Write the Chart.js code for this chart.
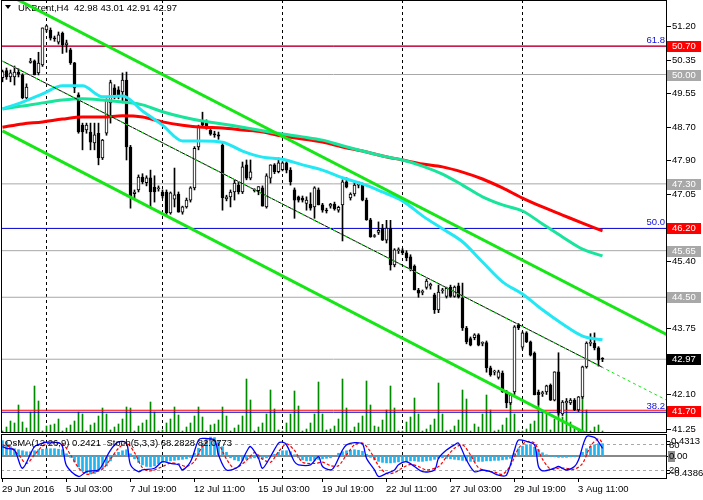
<!DOCTYPE html>
<html>
<head>
<meta charset="utf-8">
<script src="https://cdn.jsdelivr.net/npm/chart.js@4.4.1/dist/chart.umd.min.js"></script>
<style>
  html, body { margin: 0; padding: 0; background: #fff; }
  #wrap { position: relative; width: 703px; height: 500px; overflow: hidden; }
  canvas { position: absolute; left: 0; }
  #priceChart { top: 0; }
  #oscChart { top: 433px; }
</style>
</head>
<body>
<div id="wrap">
  <canvas id="priceChart" width="703" height="434"></canvas>
  <canvas id="oscChart" width="703" height="67"></canvas>
</div>
<script>
// UKBrent H4 candles, 29 Jun - 4 Aug 2016
const opens = [
  49.92,50.10,49.94,49.94,50.06,49.99,49.42,50.30,50.34,50.04,
  50.24,51.10,51.10,50.90,50.80,51.02,50.73,50.61,50.29,49.50,
  48.75,48.63,48.58,48.31,48.55,47.94,48.55,49.30,49.67,49.62,
  49.57,49.86,48.21,47.06,47.15,47.47,47.33,47.45,47.22,47.18,
  47.10,47.10,46.58,46.92,47.05,46.60,46.73,46.90,47.20,48.21,
  48.82,48.80,48.62,48.53,48.51,48.26,46.93,46.98,47.10,47.27,
  47.10,47.77,47.44,47.15,47.13,47.20,46.73,47.44,47.77,47.60,
  47.65,47.82,47.64,47.15,46.98,46.95,46.82,46.80,46.73,47.15,
  46.78,46.65,46.75,46.80,46.65,46.78,47.35,46.95,47.05,47.27,
  47.30,46.90,46.41,46.00,46.10,46.21,45.91,46.21,45.30,45.65,
  45.65,45.60,45.50,45.27,44.68,44.62,44.74,44.78,44.56,44.19,
  44.66,44.52,44.75,44.52,44.78,44.48,43.74,43.48,43.50,43.57,
  43.36,43.38,42.76,42.65,42.52,42.63,42.16,41.89,42.16,43.82,
  43.27,43.62,43.40,43.12,42.16,42.12,42.16,42.33,41.96,42.66,
  41.62,41.89,41.89,41.96,41.72,42.04,42.78,43.36,43.37,43.25,
  42.98
];
const highs = [
  50.11,50.16,50.11,50.21,50.14,50.02,49.77,50.40,50.36,50.55,
  51.15,51.22,51.15,50.95,51.05,51.05,50.85,50.65,50.30,49.55,
  48.80,48.80,48.80,48.80,48.80,48.40,49.40,49.86,49.75,49.70,
  50.04,50.06,48.25,47.15,47.52,47.55,47.50,47.64,47.50,47.25,
  47.15,47.15,47.10,47.69,47.10,46.75,46.95,47.23,48.22,48.75,
  49.07,48.88,48.70,48.60,48.58,48.30,47.02,47.15,47.40,47.35,
  47.84,47.89,47.89,47.18,47.23,47.25,47.55,47.77,47.80,47.94,
  47.85,47.85,47.70,47.20,47.00,47.00,46.98,47.08,47.23,47.20,
  46.82,46.70,46.82,46.85,46.75,47.40,47.45,47.08,47.35,47.35,
  47.32,46.95,46.45,46.05,46.36,46.30,46.40,46.40,45.70,45.72,
  45.70,45.65,45.55,45.30,44.72,44.68,44.95,44.85,44.60,44.80,
  44.72,44.75,44.80,44.78,44.85,44.85,43.78,43.52,43.60,43.60,
  43.40,43.42,42.80,42.70,42.70,42.68,42.20,42.12,43.80,43.85,
  43.65,43.65,43.42,43.15,42.21,42.18,42.33,42.36,42.66,43.13,
  41.95,42.00,42.00,42.00,42.05,42.80,43.40,43.60,43.62,43.28,
  43.01
];
const lows = [
  49.82,49.88,49.82,49.74,49.94,49.40,49.40,50.28,49.99,49.99,
  50.20,51.05,50.85,50.82,50.75,50.52,50.55,50.25,49.55,48.55,
  48.14,48.55,48.14,48.14,47.77,47.90,48.50,48.80,49.40,49.40,
  49.30,47.89,46.70,46.95,47.10,47.30,47.25,46.74,46.85,47.12,
  46.95,46.53,46.55,46.73,46.60,46.55,46.70,46.85,47.15,48.14,
  48.70,48.65,48.50,48.45,48.40,46.65,46.88,46.73,46.90,47.05,
  47.06,47.40,47.40,47.10,47.03,46.75,46.70,47.32,47.55,47.57,
  47.62,47.57,47.27,46.45,46.85,46.85,46.65,46.65,46.45,46.78,
  46.60,46.58,46.70,46.65,46.60,45.89,47.20,46.90,47.00,47.20,
  46.88,46.40,45.98,45.98,46.05,45.90,45.84,45.17,45.25,45.58,
  45.55,45.40,45.15,44.68,44.50,44.56,44.70,44.70,44.10,44.12,
  44.60,44.48,44.50,44.50,44.48,43.68,43.35,43.30,43.45,43.30,
  43.30,42.65,42.55,42.58,42.48,42.15,41.77,41.85,42.10,43.70,
  43.22,43.38,43.05,42.09,41.84,42.05,42.10,41.95,41.94,41.59,
  41.58,41.72,41.85,41.70,41.68,42.00,42.75,43.30,43.20,42.80,
  42.91
];
const closes = [
  50.07,49.94,50.04,50.06,50.00,49.42,49.69,50.33,49.99,50.28,
  51.15,51.20,50.90,50.88,50.98,50.73,50.78,50.29,49.67,48.58,
  48.58,48.75,48.33,48.51,47.94,48.38,49.37,49.80,49.50,49.45,
  49.86,48.21,46.98,47.10,47.47,47.35,47.45,47.10,47.10,47.20,
  47.00,46.58,47.08,47.03,46.60,46.73,46.90,47.20,48.18,48.70,
  48.75,48.70,48.53,48.51,48.48,46.96,46.98,47.10,47.32,47.10,
  47.72,47.44,47.60,47.13,47.23,46.75,47.50,47.77,47.60,47.82,
  47.82,47.64,47.35,46.90,46.90,46.90,46.90,46.70,47.20,46.78,
  46.65,46.63,46.80,46.68,46.72,47.35,47.22,47.05,47.27,47.30,
  46.90,46.41,45.99,46.02,46.15,45.91,46.21,45.30,45.67,45.67,
  45.60,45.47,45.20,44.68,44.60,44.62,44.90,44.82,44.19,44.63,
  44.68,44.72,44.52,44.75,44.50,43.74,43.40,43.32,43.57,43.32,
  43.38,42.76,42.58,42.66,42.66,42.16,41.89,42.09,43.77,43.74,
  43.62,43.40,43.07,42.09,42.09,42.14,42.31,41.96,42.66,41.64,
  41.91,41.93,41.96,41.72,42.04,42.78,43.37,43.38,43.25,42.95,
  42.97
];
// tick volume (relative units)
const volumes = [
  1,5,11,9,27,10,4,20,46,31, 1,6,7,8,13,1,4,7,11,20,
  18,1,7,9,16,24,18,2,5,8, 13,25,24,1,6,9,12,30,20,1,
  2,9,13,25,17,1,5,9,16,25, 15,1,7,8,12,25,16,1,4,7,
  16,53,32,1,5,9,18,42,23,2, 1,9,18,41,26,1,3,9,18,50,
  18,2,3,6,13,53,24,1,5,9, 16,51,27,6,5,12,22,46,24,1,
  1,10,15,34,18,1,3,7,13,49, 18,1,2,6,12,42,33,1,8,5,
  18,37,22,1,2,7,14,32,18,1, 1,3,8,11,36,21,18,2,13,37,
  15,21,10,5,2,52,22,1,5,7, 1
];

// moving averages, read every 5th bar
const maAt   = [0,5,10,15,20,25,30,35,40,45,50,55,60,65,70,75,80,85,90,95,100,105,110,115,120,125,130,135,140,145,150];
const maFast = [49.15,49.32,49.52,49.72,49.72,49.45,49.47,49.10,48.75,48.36,48.36,48.33,48.11,47.96,47.91,47.77,47.64,47.45,47.30,47.10,46.88,46.51,46.19,45.87,45.37,44.88,44.58,44.19,43.84,43.54,43.45];
const maMid  = [49.15,49.22,49.30,49.37,49.40,49.37,49.32,49.25,49.08,48.95,48.85,48.78,48.70,48.61,48.53,48.46,48.38,48.24,48.11,47.99,47.89,47.74,47.54,47.27,46.98,46.78,46.63,46.31,45.99,45.69,45.52];
const maSlow = [48.70,48.78,48.83,48.90,48.95,48.95,48.98,48.95,48.83,48.75,48.70,48.68,48.63,48.58,48.48,48.41,48.33,48.21,48.11,47.99,47.89,47.79,47.72,47.59,47.42,47.20,46.95,46.73,46.53,46.33,46.14];

// trend channel anchors [bar, price]
const upperChannel = [[0, 52.04], [166, 43.58]];
const lowerChannel = [[0, 48.61], [150, 40.93]];
const midLine      = [[0, 50.33], [150, 42.77]];
const midLineRay   = [[0, 50.33], [166, 41.96]];

// horizontal levels
const grayLevels = [50.00, 47.30, 45.65, 44.50, 42.97];
const redLevels  = [50.70, 41.71];
const fiboLevels = [50.70, 46.20, 41.66];
const fiboLabels = ['61.8', '50.0', '38.2'];
const markPrices = [50.70, 50.00, 47.30, 46.20, 45.65, 44.50, 42.97, 41.70];
const markKinds  = ['red', 'gray', 'gray', 'red', 'gray', 'gray', 'bid', 'red'];
const priceTicks = [51.20, 50.35, 49.55, 48.70, 47.90, 47.05, 45.40, 43.75, 42.10, 41.25];

// time axis
const timeLabelAt = [0, 16, 32, 48, 64, 80, 96, 112, 128, 144];
const timeLabels = ['29 Jun 2016', '5 Jul 03:00', '7 Jul 19:00', '12 Jul 11:00', '15 Jul 03:00',
                    '19 Jul 19:00', '22 Jul 11:00', '27 Jul 03:00', '29 Jul 19:00', '3 Aug 11:00'];
const weekStartAt = [11, 40, 70, 100, 130];

// OsMA(12,26,9) histogram, one value per bar
const osma = [
  0.30,0.28,0.18,0.14,0.12,0.10,0.08,0.08,0.10,0.12,
  0.13,0.14,0.14,0.14,0.13,0.12,0.04,-0.03,-0.12,-0.22,
  -0.30,-0.34,-0.36,-0.35,-0.30,-0.26,-0.20,-0.10,0.03,0.07,
  0.10,0.12,0.04,-0.06,-0.13,-0.18,-0.21,-0.22,-0.20,-0.16,
  -0.13,-0.11,-0.10,-0.09,-0.08,-0.07,-0.06,-0.03,0.05,0.15,
  0.25,0.33,0.37,0.36,0.30,0.18,0.07,-0.04,-0.08,-0.10,
  -0.09,-0.07,-0.05,-0.04,-0.05,-0.06,-0.04,0.00,0.03,0.07,
  0.10,0.10,0.08,0.02,-0.04,-0.08,-0.10,-0.10,-0.09,-0.07,
  -0.06,-0.05,-0.04,0.01,0.05,0.08,0.10,0.11,0.12,0.11,
  0.09,0.03,-0.03,-0.08,-0.11,-0.13,-0.14,-0.14,-0.13,-0.12,
  -0.11,-0.10,-0.10,-0.10,-0.11,-0.11,-0.10,-0.09,-0.07,-0.05,
  -0.04,-0.05,-0.06,-0.07,-0.08,-0.09,-0.10,-0.11,-0.11,-0.11,
  -0.11,-0.10,-0.10,-0.09,-0.09,-0.08,-0.07,-0.05,0.05,0.14,
  0.19,0.22,0.21,0.17,0.12,0.06,0.02,-0.01,-0.02,-0.03,
  -0.03,-0.03,-0.02,-0.02,0.01,0.07,0.14,0.19,0.22,0.24,
  0.24
];

// Stochastic(5,3,3), read at turning points
const stochMainAt = [0,1,3,5,8,10,11,14,15,16,19,21,24,25,27,29,31,32,34,35,38,40,42,44,45,47,49,50,53,54,56,59,61,62,64,65,67,69,70,71,73,74,77,79,80,82,83,85,86,88,90,91,93,94,96,98,99,101,103,105,108,109,111,113,114,116,118,120,122,124,126,128,129,131,133,134,135,138,139,141,143,144,146,148,149,150];
const stochMain   = [74,70,66,24,74,82,84,83,74,30,5,16,20,32,66,85,82,32,16,20,24,39,35,32,20,39,89,93,89,55,20,28,62,74,47,24,51,82,84,78,39,32,32,51,28,20,28,66,78,83,80,47,20,5,12,20,32,39,28,16,20,47,66,78,82,43,16,20,16,8,8,66,89,86,78,28,18,24,28,20,28,43,97,95,85,70];
const stochSigAt  = [0,2,4,6,8,10,12,15,17,19,21,23,25,27,29,31,33,35,37,40,42,44,46,48,50,52,54,56,58,61,63,65,67,69,71,73,75,78,80,82,84,86,88,90,92,94,96,98,100,102,104,106,109,111,113,115,117,119,121,123,125,127,129,131,133,135,137,139,141,143,145,147,149,150];
const stochSig    = [78,72,55,35,55,75,82,80,55,25,10,15,22,45,70,82,60,25,18,28,36,34,28,40,75,90,80,45,24,42,60,45,38,62,80,65,38,35,38,30,30,55,78,82,62,30,12,14,25,33,28,20,28,50,70,78,55,25,18,15,10,30,70,85,82,45,22,24,24,22,35,75,92,82];

const FONT = '9.5px "Liberation Sans", Arial, sans-serif';
const X_MIN = -0.375, X_MAX = 165.875;
const GREEN = '#16e616';

const bars = opens.map((_, i) => i);
const pts = (xs, ys) => xs.map((x, k) => ({ x: x, y: ys[k] }));
const seg = (pair) => pair.map(p => ({ x: p[0], y: p[1] }));

function levelLine(price, color, order) {
  return {
    type: 'line', data: [{ x: X_MIN, y: price }, { x: X_MAX, y: price }],
    borderColor: color, borderWidth: 1, pointRadius: 0, order: order, clip: 0
  };
}

function trendLine(data, color, width, order, dash) {
  return {
    type: 'line', data: seg(data), borderColor: color, borderWidth: width,
    borderDash: dash || [], pointRadius: 0, order: order, clip: 0
  };
}

function maLine(values, color, order) {
  return {
    type: 'line', data: pts(maAt, values), borderColor: color, borderWidth: 3,
    pointRadius: 0, cubicInterpolationMode: 'monotone', order: order, clip: 0
  };
}

function dashedVerticals(ctx, area, xScale) {
  ctx.save();
  ctx.strokeStyle = '#000';
  ctx.lineWidth = 1;
  ctx.setLineDash([3, 3]);
  weekStartAt.forEach(i => {
    const px = Math.floor(xScale.getPixelForValue(i)) + 0.5;
    ctx.beginPath();
    ctx.moveTo(px, area.top);
    ctx.lineTo(px, area.bottom);
    ctx.stroke();
  });
  ctx.restore();
}

const markColors = { red: '#ff0000', gray: '#a8a8a8', bid: '#000000' };

const priceDecor = {
  id: 'priceDecor',
  beforeDatasetsDraw(chart) {
    const { ctx, chartArea: a, scales } = chart;
    dashedVerticals(ctx, a, scales.x);
    // title
    ctx.save();
    ctx.fillStyle = '#000';
    ctx.beginPath();
    ctx.moveTo(5, 5); ctx.lineTo(11, 5); ctx.lineTo(8, 9); ctx.closePath();
    ctx.fill();
    ctx.font = FONT;
    ctx.textBaseline = 'middle';
    const last = opens.length - 1;
    const ohlc = [opens[last], highs[last], lows[last], closes[last]].map(v => v.toFixed(2)).join(' ');
    ctx.fillText('UKBrent,H4  ' + ohlc, 18, 8);
    ctx.restore();
  },
  afterDatasetsDraw(chart) {
    const { ctx, chartArea: a, scales: { y } } = chart;
    ctx.save();
    ctx.strokeStyle = '#000';
    ctx.lineWidth = 1;
    ctx.strokeRect(a.left + 0.5, a.top + 0.5, a.right - a.left, a.bottom - a.top);
    ctx.font = FONT;
    ctx.textBaseline = 'middle';
    ctx.textAlign = 'left';
    // plain ticks
    priceTicks.forEach(p => {
      const py = Math.round(y.getPixelForValue(p)) + 0.5;
      ctx.beginPath();
      ctx.moveTo(a.right + 1, py);
      ctx.lineTo(a.right + 5, py);
      ctx.stroke();
      ctx.fillStyle = '#000';
      ctx.fillText(p.toFixed(2), a.right + 6, py);
    });
    // boxed marks
    markPrices.forEach((p, k) => {
      const py = Math.round(y.getPixelForValue(p));
      ctx.fillStyle = markColors[markKinds[k]];
      ctx.fillRect(a.right + 1, py - 5, 34, 11);
      ctx.fillStyle = '#fff';
      ctx.fillText(p.toFixed(2), a.right + 6, py + 0.5);
    });
    // fibo level captions
    ctx.fillStyle = '#1010e0';
    ctx.textAlign = 'right';
    ctx.textBaseline = 'bottom';
    fiboLevels.forEach((p, k) => {
      ctx.fillText(fiboLabels[k], a.right - 1, y.getPixelForValue(p) - 1);
    });
    ctx.restore();
  }
};

const priceDatasets = [
  trendLine(upperChannel, GREEN, 3, 0),
  trendLine(lowerChannel, GREEN, 3, 1),
  trendLine(midLineRay, GREEN, 1, 2, [3, 3]),
  trendLine(midLine, '#000000', 1, 3),
  maLine(maFast, '#22e8f4', 5),
  maLine(maMid, '#18e49c', 6),
  maLine(maSlow, '#ff0000', 7),
  {
    type: 'bar', data: bars.map(i => ({ x: i, y: [opens[i], closes[i]] })),
    backgroundColor: bars.map(i => closes[i] >= opens[i] ? '#ffffff' : '#000000'),
    borderColor: '#000', borderWidth: 1, borderSkipped: false, minBarLength: 1,
    barThickness: 3, grouped: false, order: 8
  },
  {
    type: 'bar', data: bars.map(i => ({ x: i, y: [lows[i], highs[i]] })),
    backgroundColor: '#000', barThickness: 1, grouped: false, order: 9
  },
  ...redLevels.map(p => levelLine(p, '#ff0000', 10)),
  ...fiboLevels.map(p => levelLine(p, '#0000d0', 11)),
  ...grayLevels.map(p => levelLine(p, '#a8a8a8', 12)),
  {
    type: 'bar', data: bars.map(i => ({ x: i, y: volumes[i] })), yAxisID: 'yv',
    backgroundColor: '#008a00', barThickness: 1, grouped: false, order: 20
  }
];

new Chart(document.getElementById('priceChart'), {
  type: 'line',
  data: { datasets: priceDatasets },
  options: {
    responsive: false, animation: false, devicePixelRatio: 1, events: [],
    layout: { padding: { left: 1, right: 37, top: 0, bottom: 2 } },
    plugins: { legend: { display: false }, tooltip: { enabled: false } },
    scales: {
      x: { type: 'linear', min: X_MIN, max: X_MAX, offset: false, display: false },
      y: { type: 'linear', min: 41.173, max: 51.84, display: false },
      yv: { type: 'linear', min: 0, max: 432, display: false }
    }
  },
  plugins: [priceDecor]
});

const oscDecor = {
  id: 'oscDecor',
  beforeDatasetsDraw(chart) {
    const { ctx, chartArea: a, scales } = chart;
    dashedVerticals(ctx, a, scales.x);
    ctx.save();
    ctx.strokeStyle = '#a8a8a8';
    ctx.lineWidth = 1;
    ctx.setLineDash([3, 3]);
    [80, 20].forEach(v => {
      const py = Math.round(scales.ys.getPixelForValue(v)) + 0.5;
      ctx.beginPath(); ctx.moveTo(a.left, py); ctx.lineTo(a.right, py); ctx.stroke();
    });
    ctx.setLineDash([]);
    ctx.strokeStyle = '#888';
    ctx.lineWidth = 2;
    const zy = Math.round(scales.yo.getPixelForValue(0));
    ctx.beginPath(); ctx.moveTo(a.left, zy); ctx.lineTo(a.right, zy); ctx.stroke();
    ctx.restore();
  },
  afterDatasetsDraw(chart) {
    const { ctx, chartArea: a, scales: { x, yo, ys } } = chart;
    ctx.save();
    ctx.strokeStyle = '#000';
    ctx.lineWidth = 1;
    ctx.strokeRect(a.left + 0.5, a.top + 0.5, a.right - a.left, a.bottom - a.top);
    ctx.font = FONT;
    ctx.fillStyle = '#000';
    ctx.textBaseline = 'middle';
    ctx.textAlign = 'left';
    ctx.fillText('OsMA(12,26,9) 0.2421  Stoch(5,3,3) 68.2828 82.0773', 5, a.top + 9);
    // right scale
    const zy = Math.round(yo.getPixelForValue(0));
    const y80 = ys.getPixelForValue(80), y20 = ys.getPixelForValue(20);
    [y80 - 3, y80, zy, y20, y20 + 3].forEach(py => {
      const ty = Math.round(py) + 0.5;
      ctx.beginPath(); ctx.moveTo(a.right + 1, ty); ctx.lineTo(a.right + 4, ty); ctx.stroke();
    });
    ctx.fillText('80', a.right + 3, y80 + 1);
    ctx.fillText('0.4313', a.right + 5, y80 - 3);
    ctx.fillStyle = '#8c8c8c';
    ctx.fillRect(a.right + 2, zy - 5, 7, 11);
    ctx.fillStyle = '#000';
    ctx.fillText('0.00', a.right + 3, zy + 0.5);
    ctx.fillText('20', a.right + 3, y20);
    ctx.fillText('-0.4386', a.right + 5, y20 + 3);
    // time labels
    timeLabelAt.forEach((i, k) => {
      const px = Math.floor(x.getPixelForValue(i)) + 0.5;
      ctx.beginPath(); ctx.moveTo(px, a.bottom); ctx.lineTo(px, a.bottom + 4); ctx.stroke();
      ctx.fillText(timeLabels[k], px - 0.5, a.bottom + 11);
    });
    ctx.restore();
  }
};

new Chart(document.getElementById('oscChart'), {
  type: 'line',
  data: {
    datasets: [
      {
        type: 'line', data: pts(stochMainAt, stochMain), yAxisID: 'ys',
        borderColor: '#0000ff', borderWidth: 1.3, pointRadius: 0, tension: 0.3, order: 0, clip: 0
      },
      {
        type: 'line', data: pts(stochSigAt, stochSig), yAxisID: 'ys',
        borderColor: '#ff0000', borderWidth: 1.2, borderDash: [3, 2], pointRadius: 0, tension: 0.3, order: 1, clip: 0
      },
      {
        type: 'bar', data: bars.map(i => ({ x: i, y: osma[i] })), yAxisID: 'yo',
        backgroundColor: '#22b4ee', barThickness: 2, grouped: false, order: 2
      }
    ]
  },
  options: {
    responsive: false, animation: false, devicePixelRatio: 1, events: [],
    layout: { padding: { left: 1, right: 37, top: 1, bottom: 22 } },
    plugins: { legend: { display: false }, tooltip: { enabled: false } },
    scales: {
      x: { type: 'linear', min: X_MIN, max: X_MAX, offset: false, display: false },
      yo: { type: 'linear', min: -0.4386, max: 0.4313, display: false },
      ys: { type: 'linear', min: 1.5, max: 103, display: false }
    }
  },
  plugins: [oscDecor]
});
</script>
</body>
</html>
